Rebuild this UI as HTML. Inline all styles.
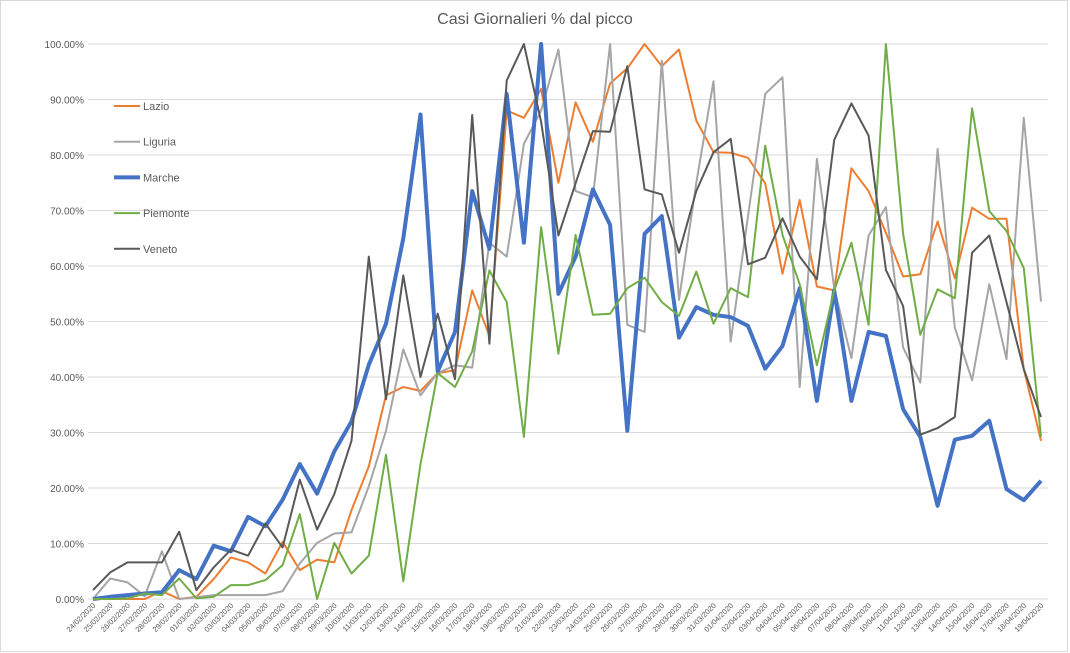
<!DOCTYPE html>
<html><head><meta charset="utf-8"><style>
body{margin:0;background:#fff;width:1070px;height:653px;overflow:hidden;font-family:"Liberation Sans",sans-serif}
svg{display:block}
</style></head><body>
<svg id="chart" width="1070" height="653" xmlns="http://www.w3.org/2000/svg">
<rect x="0.5" y="0.5" width="1067" height="651" fill="#fff" stroke="#d9d9d9"/>
<text x="535" y="24" text-anchor="middle" font-size="16" fill="#595959">Casi Giornalieri % dal picco</text>
<g id="grid"></g><g id="yaxis"></g><g id="xaxis"></g><g id="series"></g><g id="legend"></g>
</svg>
<script>
const dates=["24/02/2020","25/02/2020","26/02/2020","27/02/2020","28/02/2020","29/02/2020","01/03/2020","02/03/2020","03/03/2020","04/03/2020","05/03/2020","06/03/2020","07/03/2020","08/03/2020","09/03/2020","10/03/2020","11/03/2020","12/03/2020","13/03/2020","14/03/2020","15/03/2020","16/03/2020","17/03/2020","18/03/2020","19/03/2020","20/03/2020","21/03/2020","22/03/2020","23/03/2020","24/03/2020","25/03/2020","26/03/2020","27/03/2020","28/03/2020","29/03/2020","30/03/2020","31/03/2020","01/04/2020","02/04/2020","03/04/2020","04/04/2020","05/04/2020","06/04/2020","07/04/2020","08/04/2020","09/04/2020","10/04/2020","11/04/2020","12/04/2020","13/04/2020","14/04/2020","15/04/2020","16/04/2020","17/04/2020","18/04/2020","19/04/2020"];
const yTicks=[0,10,20,30,40,50,60,70,80,90,100];
const lazio=[0,0,0,0,1.4,0,0.4,3.6,7.5,6.6,4.6,10.3,5.2,7.1,6.6,16,23.9,36.7,38.2,37.5,40.7,41.2,55.6,47.4,88,86.7,91.9,75,89.5,82.4,92.9,95.6,100,96,99,86.2,80.5,80.4,79.5,74.9,58.6,71.9,56.3,55.6,77.6,73.5,66,58.1,58.5,68,57.8,70.5,68.5,68.5,41.4,28.5];
const liguria=[0,3.7,3,0.5,8.6,0,0.3,0.7,0.7,0.7,0.7,1.4,6.4,10.1,11.8,12,20.3,30.3,27.1,45,36.7,40.7,42.1,41.7,64.2,61.7,82,88,99,73.5,72.4,100,49.4,48.1,97,53.9,75,93.3,46.4,69,91,94,38.2,79.3,56,43.4,65.5,70.6,45.3,39,81.1,48.9,39.4,56.7,43.2,86.7,53.6];
liguria.splice(18,1);
const marche=[0,0.4,0.7,1,1.2,5.2,3.6,9.6,8.6,14.8,13.1,17.9,24.3,19,26.6,32,42.2,49.6,65,87.3,41,48.1,73.5,63.1,91,64.2,100,55,61.7,73.8,67.4,30.3,65.8,69,47.1,52.6,51.2,50.8,49.2,41.5,45.6,56,35.7,55.6,35.7,48.1,47.4,34.2,29.2,16.8,28.7,29.4,32.1,19.8,17.8,21.3];
const piemonte=[0,0,0.1,1,0.7,3.7,0.1,0.4,2.5,2.5,3.4,6.1,15.3,0,10.1,4.6,7.8,26,3.2,24.3,40.7,38.2,44.6,59.2,53.5,29.2,67,44.2,65.6,51.2,51.4,56,57.9,53.5,51,59,49.6,56,54.4,81.7,65.6,56.7,42.1,55.6,64.2,49.4,100,65.8,47.6,55.8,54.2,88.4,69.9,66.3,59.6,29.2];
const veneto=[1.6,4.8,6.6,6.6,6.6,12.1,1.6,5.7,8.9,7.8,13.6,9.3,21.5,12.5,18.9,28.5,61.7,36,58.3,40,51.4,39.6,87.2,46,93.4,100,86,65.5,74.9,84.3,84.2,96,73.8,72.9,62.4,73.5,80.5,82.9,60.3,61.5,68.6,61.7,57.6,82.7,89.3,83.5,59.3,52.8,29.6,30.8,32.8,62.4,65.5,53.5,41.4,32.8];
const seriesNames=["Lazio","Liguria","Marche","Piemonte","Veneto"];
const seriesData=[lazio,liguria,marche,piemonte,veneto];
const colors=["#ED7D31","#A5A5A5","#4472C4","#70AD47","#595959"];
const widths=[2,2,4,2,2];
const NS="http://www.w3.org/2000/svg";
const X0=93,X1=1041,Y0=599,Y1=44;
function xs(i){return X0+(X1-X0)*i/(dates.length-1);}
function ys(v){return Y0-(Y0-Y1)*v/100;}
function mk(tag,attrs,parent){const e=document.createElementNS(NS,tag);for(const k in attrs)e.setAttribute(k,attrs[k]);parent.appendChild(e);return e;}
const grid=document.getElementById('grid'),yax=document.getElementById('yaxis'),xax=document.getElementById('xaxis'),ser=document.getElementById('series'),leg=document.getElementById('legend');
yTicks.forEach(t=>{
  const l=mk('line',{x1:88,x2:1048,y1:ys(t),y2:ys(t),stroke:'#d9d9d9','stroke-width':1},grid);
  
  
  const tx=mk('text',{x:84,y:ys(t)+4,'text-anchor':'end','font-size':10,fill:'#595959'},yax);
  tx.textContent=t.toFixed(2)+'%';
  
  
});
dates.forEach((d,i)=>{
  const x=xs(i);
  const tx=mk('text',{x:x+3,y:606,'text-anchor':'end','font-size':7.5,fill:'#595959',transform:`rotate(-45 ${x+3} 606)`},xax);
  tx.textContent=d;
  
  
});
seriesData.forEach((arr,s)=>{
  const pts=arr.map((v,i)=>xs(i).toFixed(1)+','+ys(v).toFixed(1)).join(' ');
  const p=mk('polyline',{points:pts,fill:'none',stroke:colors[s],'stroke-width':widths[s],'stroke-linejoin':'round'},ser);
  
  
  const ly=106+s*35.7;
  const ll=mk('line',{x1:114,x2:140,y1:ly,y2:ly,stroke:colors[s],'stroke-width':widths[s]},leg);
  
  
  const lt=mk('text',{x:143,y:ly+4,'font-size':11,fill:'#595959'},leg);
  lt.textContent=seriesNames[s];
  
  
});
</script>
</body></html>
